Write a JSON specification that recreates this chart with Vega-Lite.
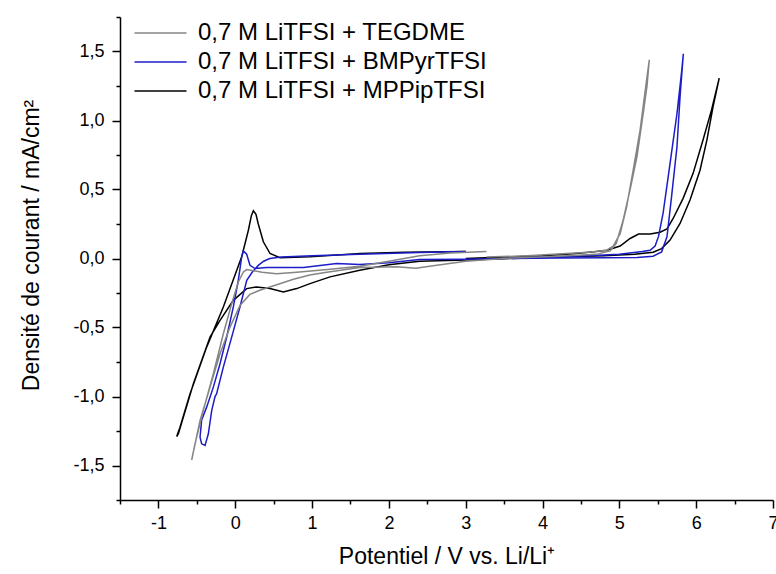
{
  "$schema": "https://vega.github.io/schema/vega-lite/v6.json",
  "width": 653,
  "height": 483,
  "autosize": "none",
  "padding": {"left": 120, "top": 17, "right": 3, "bottom": 74},
  "background": "white",
  "config": {"view": {"stroke": null}, "font": "Liberation Sans"},
  "datasets": {
    "cv": [
      {"s":"M","i":0,"x":3.0,"y":0.0},{"s":"M","i":1,"x":3.5,"y":0.01},{"s":"M","i":2,"x":4.0,"y":0.02},{"s":"M","i":3,"x":4.4,"y":0.035},{"s":"M","i":4,"x":4.7,"y":0.05},{"s":"M","i":5,"x":4.84,"y":0.06},{"s":"M","i":6,"x":5.01,"y":0.09},{"s":"M","i":7,"x":5.14,"y":0.145},{"s":"M","i":8,"x":5.25,"y":0.177},{"s":"M","i":9,"x":5.4,"y":0.177},{"s":"M","i":10,"x":5.53,"y":0.19},{"s":"M","i":11,"x":5.62,"y":0.215},{"s":"M","i":12,"x":5.7,"y":0.29},{"s":"M","i":13,"x":5.83,"y":0.436},{"s":"M","i":14,"x":5.96,"y":0.617},{"s":"M","i":15,"x":6.09,"y":0.86},{"s":"M","i":16,"x":6.2,"y":1.077},{"s":"M","i":17,"x":6.3,"y":1.307},
      {"s":"M","i":18,"x":6.22,"y":1.1},{"s":"M","i":19,"x":6.14,"y":0.86},{"s":"M","i":20,"x":6.05,"y":0.64},{"s":"M","i":21,"x":5.92,"y":0.424},{"s":"M","i":22,"x":5.79,"y":0.254},{"s":"M","i":23,"x":5.66,"y":0.133},{"s":"M","i":24,"x":5.55,"y":0.072},{"s":"M","i":25,"x":5.44,"y":0.045},{"s":"M","i":26,"x":5.2,"y":0.03},{"s":"M","i":27,"x":4.8,"y":0.02},{"s":"M","i":28,"x":4.2,"y":0.01},{"s":"M","i":29,"x":3.6,"y":0.0},{"s":"M","i":30,"x":3.0,"y":-0.01},{"s":"M","i":31,"x":2.4,"y":-0.02},{"s":"M","i":32,"x":2.0,"y":-0.045},{"s":"M","i":33,"x":1.62,"y":-0.085},{"s":"M","i":34,"x":1.234,"y":-0.133},{"s":"M","i":35,"x":0.973,"y":-0.182},{"s":"M","i":36,"x":0.8,"y":-0.218},{"s":"M","i":37,"x":0.626,"y":-0.242},{"s":"M","i":38,"x":0.453,"y":-0.218},{"s":"M","i":39,"x":0.279,"y":-0.206},{"s":"M","i":40,"x":0.149,"y":-0.218},{"s":"M","i":41,"x":-0.025,"y":-0.303},{"s":"M","i":42,"x":-0.198,"y":-0.448},{"s":"M","i":43,"x":-0.328,"y":-0.569},{"s":"M","i":44,"x":-0.545,"y":-0.908},{"s":"M","i":45,"x":-0.74,"y":-1.27},{"s":"M","i":46,"x":-0.762,"y":-1.29},
      {"s":"M","i":47,"x":-0.719,"y":-1.223},{"s":"M","i":48,"x":-0.589,"y":-0.981},{"s":"M","i":49,"x":-0.372,"y":-0.642},{"s":"M","i":50,"x":-0.155,"y":-0.351},{"s":"M","i":51,"x":0.084,"y":0.012},{"s":"M","i":52,"x":0.171,"y":0.205},{"s":"M","i":53,"x":0.21,"y":0.31},{"s":"M","i":54,"x":0.236,"y":0.346},{"s":"M","i":55,"x":0.27,"y":0.32},{"s":"M","i":56,"x":0.3,"y":0.25},{"s":"M","i":57,"x":0.366,"y":0.121},{"s":"M","i":58,"x":0.453,"y":0.036},{"s":"M","i":59,"x":0.583,"y":0.005},{"s":"M","i":60,"x":0.973,"y":0.012},{"s":"M","i":61,"x":1.624,"y":0.036},{"s":"M","i":62,"x":2.2,"y":0.045},{"s":"M","i":63,"x":3.0,"y":0.05},
      {"s":"B","i":0,"x":3.0,"y":0.05},{"s":"B","i":1,"x":2.4,"y":0.043},{"s":"B","i":2,"x":1.62,"y":0.03},{"s":"B","i":3,"x":1.0,"y":0.02},{"s":"B","i":4,"x":0.6,"y":0.01},{"s":"B","i":5,"x":0.45,"y":0.0},{"s":"B","i":6,"x":0.37,"y":-0.02},{"s":"B","i":7,"x":0.3,"y":-0.05},{"s":"B","i":8,"x":0.22,"y":-0.1},{"s":"B","i":9,"x":0.15,"y":-0.158},{"s":"B","i":10,"x":0.062,"y":-0.35},{"s":"B","i":11,"x":-0.046,"y":-0.57},{"s":"B","i":12,"x":-0.155,"y":-0.787},{"s":"B","i":13,"x":-0.242,"y":-0.98},{"s":"B","i":14,"x":-0.263,"y":-1.0},{"s":"B","i":15,"x":-0.306,"y":-1.1},{"s":"B","i":16,"x":-0.35,"y":-1.27},{"s":"B","i":17,"x":-0.393,"y":-1.355},{"s":"B","i":18,"x":-0.437,"y":-1.343},{"s":"B","i":19,"x":-0.458,"y":-1.295},
      {"s":"B","i":20,"x":-0.437,"y":-1.17},{"s":"B","i":21,"x":-0.372,"y":-1.077},{"s":"B","i":22,"x":-0.285,"y":-0.932},{"s":"B","i":23,"x":-0.198,"y":-0.763},{"s":"B","i":24,"x":-0.111,"y":-0.569},{"s":"B","i":25,"x":-0.025,"y":-0.351},{"s":"B","i":26,"x":0.04,"y":-0.158},{"s":"B","i":27,"x":0.084,"y":0.012},{"s":"B","i":28,"x":0.106,"y":0.055},{"s":"B","i":29,"x":0.149,"y":0.031},{"s":"B","i":30,"x":0.192,"y":-0.049},{"s":"B","i":31,"x":0.258,"y":-0.073},{"s":"B","i":32,"x":0.41,"y":-0.066},{"s":"B","i":33,"x":0.887,"y":-0.066},{"s":"B","i":34,"x":1.32,"y":-0.036},{"s":"B","i":35,"x":1.62,"y":-0.044},{"s":"B","i":36,"x":2.0,"y":-0.03},{"s":"B","i":37,"x":2.4,"y":-0.007},{"s":"B","i":38,"x":3.0,"y":-0.005},{"s":"B","i":39,"x":3.5,"y":0.0},{"s":"B","i":40,"x":4.14,"y":0.012},{"s":"B","i":41,"x":4.6,"y":0.02},{"s":"B","i":42,"x":5.0,"y":0.03},{"s":"B","i":43,"x":5.3,"y":0.05},{"s":"B","i":44,"x":5.4,"y":0.06},{"s":"B","i":45,"x":5.465,"y":0.09},{"s":"B","i":46,"x":5.51,"y":0.16},{"s":"B","i":47,"x":5.57,"y":0.33},{"s":"B","i":48,"x":5.66,"y":0.69},{"s":"B","i":49,"x":5.75,"y":1.05},{"s":"B","i":50,"x":5.81,"y":1.35},{"s":"B","i":51,"x":5.833,"y":1.484},
      {"s":"B","i":52,"x":5.79,"y":1.17},{"s":"B","i":53,"x":5.75,"y":0.81},{"s":"B","i":54,"x":5.68,"y":0.45},{"s":"B","i":55,"x":5.62,"y":0.157},{"s":"B","i":56,"x":5.55,"y":0.048},{"s":"B","i":57,"x":5.44,"y":0.017},{"s":"B","i":58,"x":5.23,"y":0.007},{"s":"B","i":59,"x":4.8,"y":0.005},{"s":"B","i":60,"x":4.2,"y":0.003},{"s":"B","i":61,"x":3.6,"y":0.0},
      {"s":"T","i":0,"x":3.27,"y":0.01},{"s":"T","i":1,"x":3.8,"y":0.02},{"s":"T","i":2,"x":4.14,"y":0.03},{"s":"T","i":3,"x":4.6,"y":0.045},{"s":"T","i":4,"x":4.835,"y":0.06},{"s":"T","i":5,"x":4.92,"y":0.09},{"s":"T","i":6,"x":5.01,"y":0.18},{"s":"T","i":7,"x":5.095,"y":0.375},{"s":"T","i":8,"x":5.18,"y":0.64},{"s":"T","i":9,"x":5.27,"y":0.93},{"s":"T","i":10,"x":5.355,"y":1.295},{"s":"T","i":11,"x":5.39,"y":1.44},
      {"s":"T","i":12,"x":5.36,"y":1.25},{"s":"T","i":13,"x":5.31,"y":1.05},{"s":"T","i":14,"x":5.23,"y":0.74},{"s":"T","i":15,"x":5.14,"y":0.5},{"s":"T","i":16,"x":5.05,"y":0.28},{"s":"T","i":17,"x":4.96,"y":0.11},{"s":"T","i":18,"x":4.88,"y":0.055},{"s":"T","i":19,"x":4.7,"y":0.03},{"s":"T","i":20,"x":4.14,"y":0.015},{"s":"T","i":21,"x":3.5,"y":0.0},{"s":"T","i":22,"x":3.0,"y":-0.02},{"s":"T","i":23,"x":2.6,"y":-0.05},{"s":"T","i":24,"x":2.35,"y":-0.07},{"s":"T","i":25,"x":2.1,"y":-0.06},{"s":"T","i":26,"x":1.62,"y":-0.066},{"s":"T","i":27,"x":1.19,"y":-0.1},{"s":"T","i":28,"x":0.97,"y":-0.12},{"s":"T","i":29,"x":0.757,"y":-0.15},{"s":"T","i":30,"x":0.54,"y":-0.19},{"s":"T","i":31,"x":0.32,"y":-0.23},{"s":"T","i":32,"x":0.19,"y":-0.26},{"s":"T","i":33,"x":0.062,"y":-0.34},{"s":"T","i":34,"x":-0.068,"y":-0.497},{"s":"T","i":35,"x":-0.198,"y":-0.69},{"s":"T","i":36,"x":-0.328,"y":-0.932},{"s":"T","i":37,"x":-0.458,"y":-1.174},{"s":"T","i":38,"x":-0.567,"y":-1.46},
      {"s":"T","i":39,"x":-0.524,"y":-1.343},{"s":"T","i":40,"x":-0.415,"y":-1.1},{"s":"T","i":41,"x":-0.285,"y":-0.835},{"s":"T","i":42,"x":-0.155,"y":-0.545},{"s":"T","i":43,"x":-0.046,"y":-0.327},{"s":"T","i":44,"x":0.04,"y":-0.17},{"s":"T","i":45,"x":0.106,"y":-0.097},{"s":"T","i":46,"x":0.149,"y":-0.08},{"s":"T","i":47,"x":0.2,"y":-0.085},{"s":"T","i":48,"x":0.35,"y":-0.1},{"s":"T","i":49,"x":0.54,"y":-0.11},{"s":"T","i":50,"x":0.8,"y":-0.1},{"s":"T","i":51,"x":1.2,"y":-0.08},{"s":"T","i":52,"x":1.62,"y":-0.056},{"s":"T","i":53,"x":2.0,"y":-0.02},{"s":"T","i":54,"x":2.4,"y":0.02},{"s":"T","i":55,"x":2.8,"y":0.04},{"s":"T","i":56,"x":3.27,"y":0.05}
    ]
  },
  "data": {"name": "cv"},
  "mark": {"type": "line", "strokeWidth": 1.5, "clip": true},
  "encoding": {
    "x": {
      "field": "x", "type": "quantitative",
      "scale": {"domain": [-1.5, 7], "nice": false, "zero": false},
      "axis": {
        "title": "Potentiel / V vs. Li/Li⁺",
        "values": [-1.5,-1,-0.5,0,0.5,1,1.5,2,2.5,3,3.5,4,4.5,5,5.5,6,6.5,7],
        "labelExpr": "datum.value % 1 === 0 ? (datum.value < 0 ? '-' : '') + format(abs(datum.value), 'd') : ''",
        "tickSize": {"condition": {"test": "datum.value % 1 === 0", "value": 8}, "value": 4},
        "grid": false, "domainColor": "black", "domainWidth": 1.5, "tickColor": "black", "tickWidth": 1.5,
        "labelFont": "Liberation Sans", "labelFontSize": 18, "labelColor": "black", "labelPadding": 6,
        "titleFont": "Liberation Sans", "titleFontSize": 23, "titleFontWeight": "normal", "titleColor": "black", "titlePadding": 13,
        "labelFlush": false, "labelOverlap": false
      }
    },
    "y": {
      "field": "y", "type": "quantitative",
      "scale": {"domain": [-1.75, 1.75], "nice": false, "zero": false},
      "axis": {
        "title": "Densité de courant / mA/cm²",
        "values": [-1.75,-1.5,-1.25,-1,-0.75,-0.5,-0.25,0,0.25,0.5,0.75,1,1.25,1.5,1.75],
        "labelExpr": "abs(datum.value) % 0.5 === 0 ? (datum.value < 0 ? '-' : '') + replace(format(abs(datum.value), '.1f'), '.', ',') : ''",
        "tickSize": {"condition": {"test": "abs(datum.value) % 0.5 === 0", "value": 8}, "value": 4},
        "grid": false, "domainColor": "black", "domainWidth": 1.5, "tickColor": "black", "tickWidth": 1.5,
        "labelFont": "Liberation Sans", "labelFontSize": 18, "labelColor": "black", "labelPadding": 8,
        "titleFont": "Liberation Sans", "titleFontSize": 23, "titleFontWeight": "normal", "titleColor": "black", "titlePadding": 29, "titleY": 228,
        "labelFlush": false, "labelOverlap": false
      }
    },
    "color": {
      "field": "s", "type": "nominal",
      "scale": {"domain": ["T", "B", "M"], "range": ["#858585", "#1c1cc8", "#000000"]},
      "legend": {
        "title": null, "orient": "none", "legendX": 28.5, "legendY": 4,
        "symbolType": "M-4,0H4", "symbolSize": 169, "symbolStrokeWidth": 1.5,
        "labelFont": "Liberation Sans", "labelFontSize": 24, "labelColor": "black", "labelOffset": 25.5,
        "rowPadding": 5, "padding": 0, "labelLimit": 500,
        "labelExpr": "datum.value === 'T' ? '0,7 M LiTFSI + TEGDME' : datum.value === 'B' ? '0,7 M LiTFSI + BMPyrTFSI' : '0,7 M LiTFSI + MPPipTFSI'"
      }
    },
    "detail": {"field": "s"},
    "order": {"field": "i", "type": "quantitative"}
  }
}
